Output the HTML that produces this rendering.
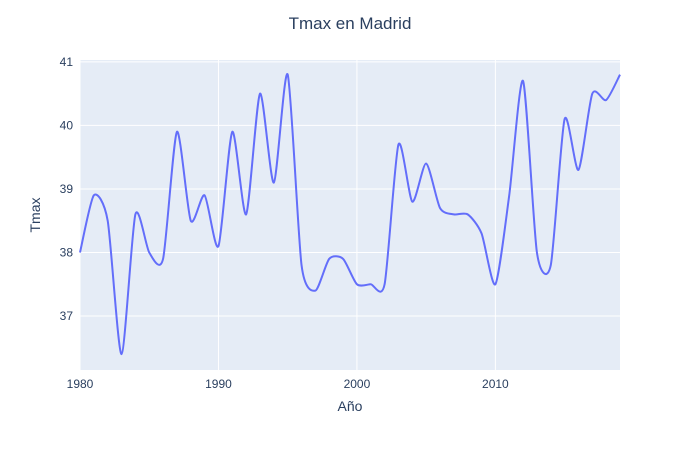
<!DOCTYPE html>
<html><head><meta charset="utf-8"><style>
body{margin:0;background:#fff;}
svg{display:block;font-family:"Liberation Sans",sans-serif;}
</style></head><body>
<svg id="chart" width="700" height="450">
<rect x="0" y="0" width="700" height="450" fill="#fff"/>
<rect x="80" y="60" width="540" height="310" fill="#e5ecf6"/>
<g id="grid"></g>
<path id="line" fill="none" stroke="#636efa" stroke-width="2"/>
<g id="ticks" font-size="12" fill="#2a3f5f"></g>
<text x="350" y="29" text-anchor="middle" font-size="17" fill="#2a3f5f">Tmax en Madrid</text>
<text x="350" y="411" text-anchor="middle" font-size="14" fill="#2a3f5f">Año</text>
<text x="40" y="215" text-anchor="middle" font-size="14" fill="#2a3f5f" transform="rotate(-90 40 215)">Tmax</text>
</svg>
<script>
const years=[1980,1981,1982,1983,1984,1985,1986,1987,1988,1989,1990,1991,1992,1993,1994,1995,1996,1997,1998,1999,2000,2001,2002,2003,2004,2005,2006,2007,2008,2009,2010,2011,2012,2013,2014,2015,2016,2017,2018,2019];
const tmax=[38.0,38.9,38.5,36.4,38.6,38.0,37.9,39.9,38.5,38.9,38.1,39.9,38.6,40.5,39.1,40.8,37.8,37.4,37.9,37.9,37.5,37.5,37.5,39.7,38.8,39.4,38.7,38.6,38.6,38.3,37.5,38.9,40.7,38.0,37.8,40.1,39.3,40.5,40.4,40.8];
const xTicks=[1980,1990,2000,2010];
const yTicks=[37,38,39,40,41];
const X0=80,X1=620,Y0=60,Y1=370;
const xMin=1980,xMax=2019,yMin=36.15,yMax=41.03;
const sx=v=>X0+(v-xMin)/(xMax-xMin)*(X1-X0);
const sy=v=>Y1-(v-yMin)/(yMax-yMin)*(Y1-Y0);
const NS="http://www.w3.org/2000/svg";
const grid=document.getElementById('grid'),ticks=document.getElementById('ticks');
xTicks.forEach(t=>{
 const l=document.createElementNS(NS,'line');
 l.setAttribute('x1',sx(t));l.setAttribute('x2',sx(t));l.setAttribute('y1',Y0);l.setAttribute('y2',Y1);
 l.setAttribute('stroke','#fff');l.setAttribute('stroke-width','1');
 
 
 grid.appendChild(l);
 const tx=document.createElementNS(NS,'text');
 tx.setAttribute('x',sx(t));tx.setAttribute('y',Y1+18);tx.setAttribute('text-anchor','middle');
 tx.textContent=t;
 
 
 ticks.appendChild(tx);
});
yTicks.forEach(t=>{
 const l=document.createElementNS(NS,'line');
 l.setAttribute('x1',X0);l.setAttribute('x2',X1);l.setAttribute('y1',sy(t));l.setAttribute('y2',sy(t));
 l.setAttribute('stroke','#fff');l.setAttribute('stroke-width','1');
 
 
 grid.appendChild(l);
 const tx=document.createElementNS(NS,'text');
 tx.setAttribute('x',X0-7);tx.setAttribute('y',sy(t)+4);tx.setAttribute('text-anchor','end');
 tx.textContent=t;
 
 
 ticks.appendChild(tx);
});
const pts=years.map((y,i)=>[sx(y),sy(tmax[i])]);
let d='M'+pts[0][0]+','+pts[0][1];
for(let i=0;i<pts.length-1;i++){
 const p0=pts[Math.max(0,i-1)],p1=pts[i],p2=pts[i+1],p3=pts[Math.min(pts.length-1,i+2)];
 const k=0.12;
 const c1=[p1[0]+(p2[0]-p0[0])*k,p1[1]+(p2[1]-p0[1])*k];
 const c2=[p2[0]-(p3[0]-p1[0])*k,p2[1]-(p3[1]-p1[1])*k];
 d+=' C'+c1+' '+c2+' '+p2;
}
document.getElementById('line').setAttribute('d',d);
</script>
</body></html>
